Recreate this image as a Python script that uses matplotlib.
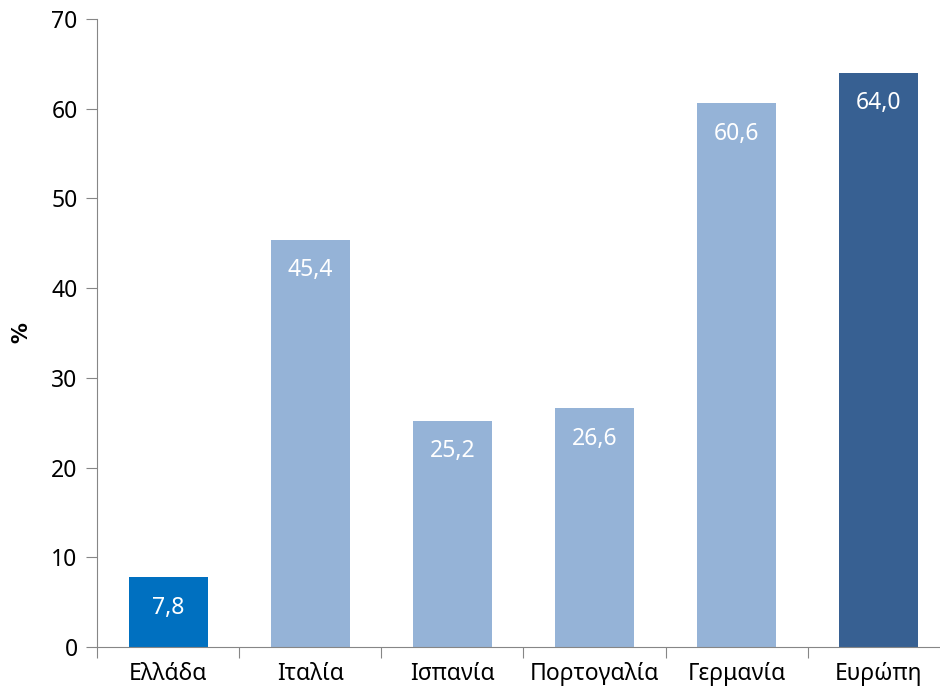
import numpy as np
import matplotlib.pyplot as plt

plt.rcParams['font.family'] = ['Noto Sans', 'DejaVu Sans']

countries = ['Ελλάδα', 'Ιταλία', 'Ισπανία', 'Πορτογαλία', 'Γερμανία', 'Ευρώπη']
values = [7.8, 45.4, 25.2, 26.6, 60.6, 64.0]
colors = ['#0070C0', '#95B3D7', '#95B3D7', '#95B3D7', '#95B3D7', '#376092']

fig = plt.figure(figsize=(9.4, 6.95), dpi=100)
ax = fig.add_axes([97/940, 48/695, 843/940, 628/695])

x = np.arange(len(countries))
bars = ax.bar(x, values, width=0.555, color=colors, zorder=2)

for b, v in zip(bars, values):
    ax.text(b.get_x() + b.get_width()/2, v - 3.4, f'{v:.1f}'.replace('.', ','),
            ha='center', va='center', color='white', fontsize=16.5)

ax.set_ylim(0, 70)
ax.set_yticks(range(0, 71, 10))
ax.set_xlim(-0.5, 5.5 - 10/142.5)

# category boundaries as tick marks, labels at centres
ax.set_xticks(np.arange(-0.5, 5.5, 1.0))
ax.set_xticklabels([])
ax.set_xticks(x, minor=True)
ax.set_xticklabels(countries, minor=True)
ax.tick_params(axis='x', which='minor', length=0, pad=11, labelsize=16.5)
ax.tick_params(axis='x', which='major', length=8, color='#868686')
ax.tick_params(axis='y', length=8, color='#868686', labelsize=16.5, pad=6)

for s in ['top', 'right']:
    ax.spines[s].set_visible(False)
for s in ['left', 'bottom']:
    ax.spines[s].set_color('#868686')

ax.set_ylabel('%', fontsize=15, fontweight='bold', family='DejaVu Sans')
ax.yaxis.set_label_coords(-66/843, 0.5)

fig.savefig('out.png', dpi=100)
